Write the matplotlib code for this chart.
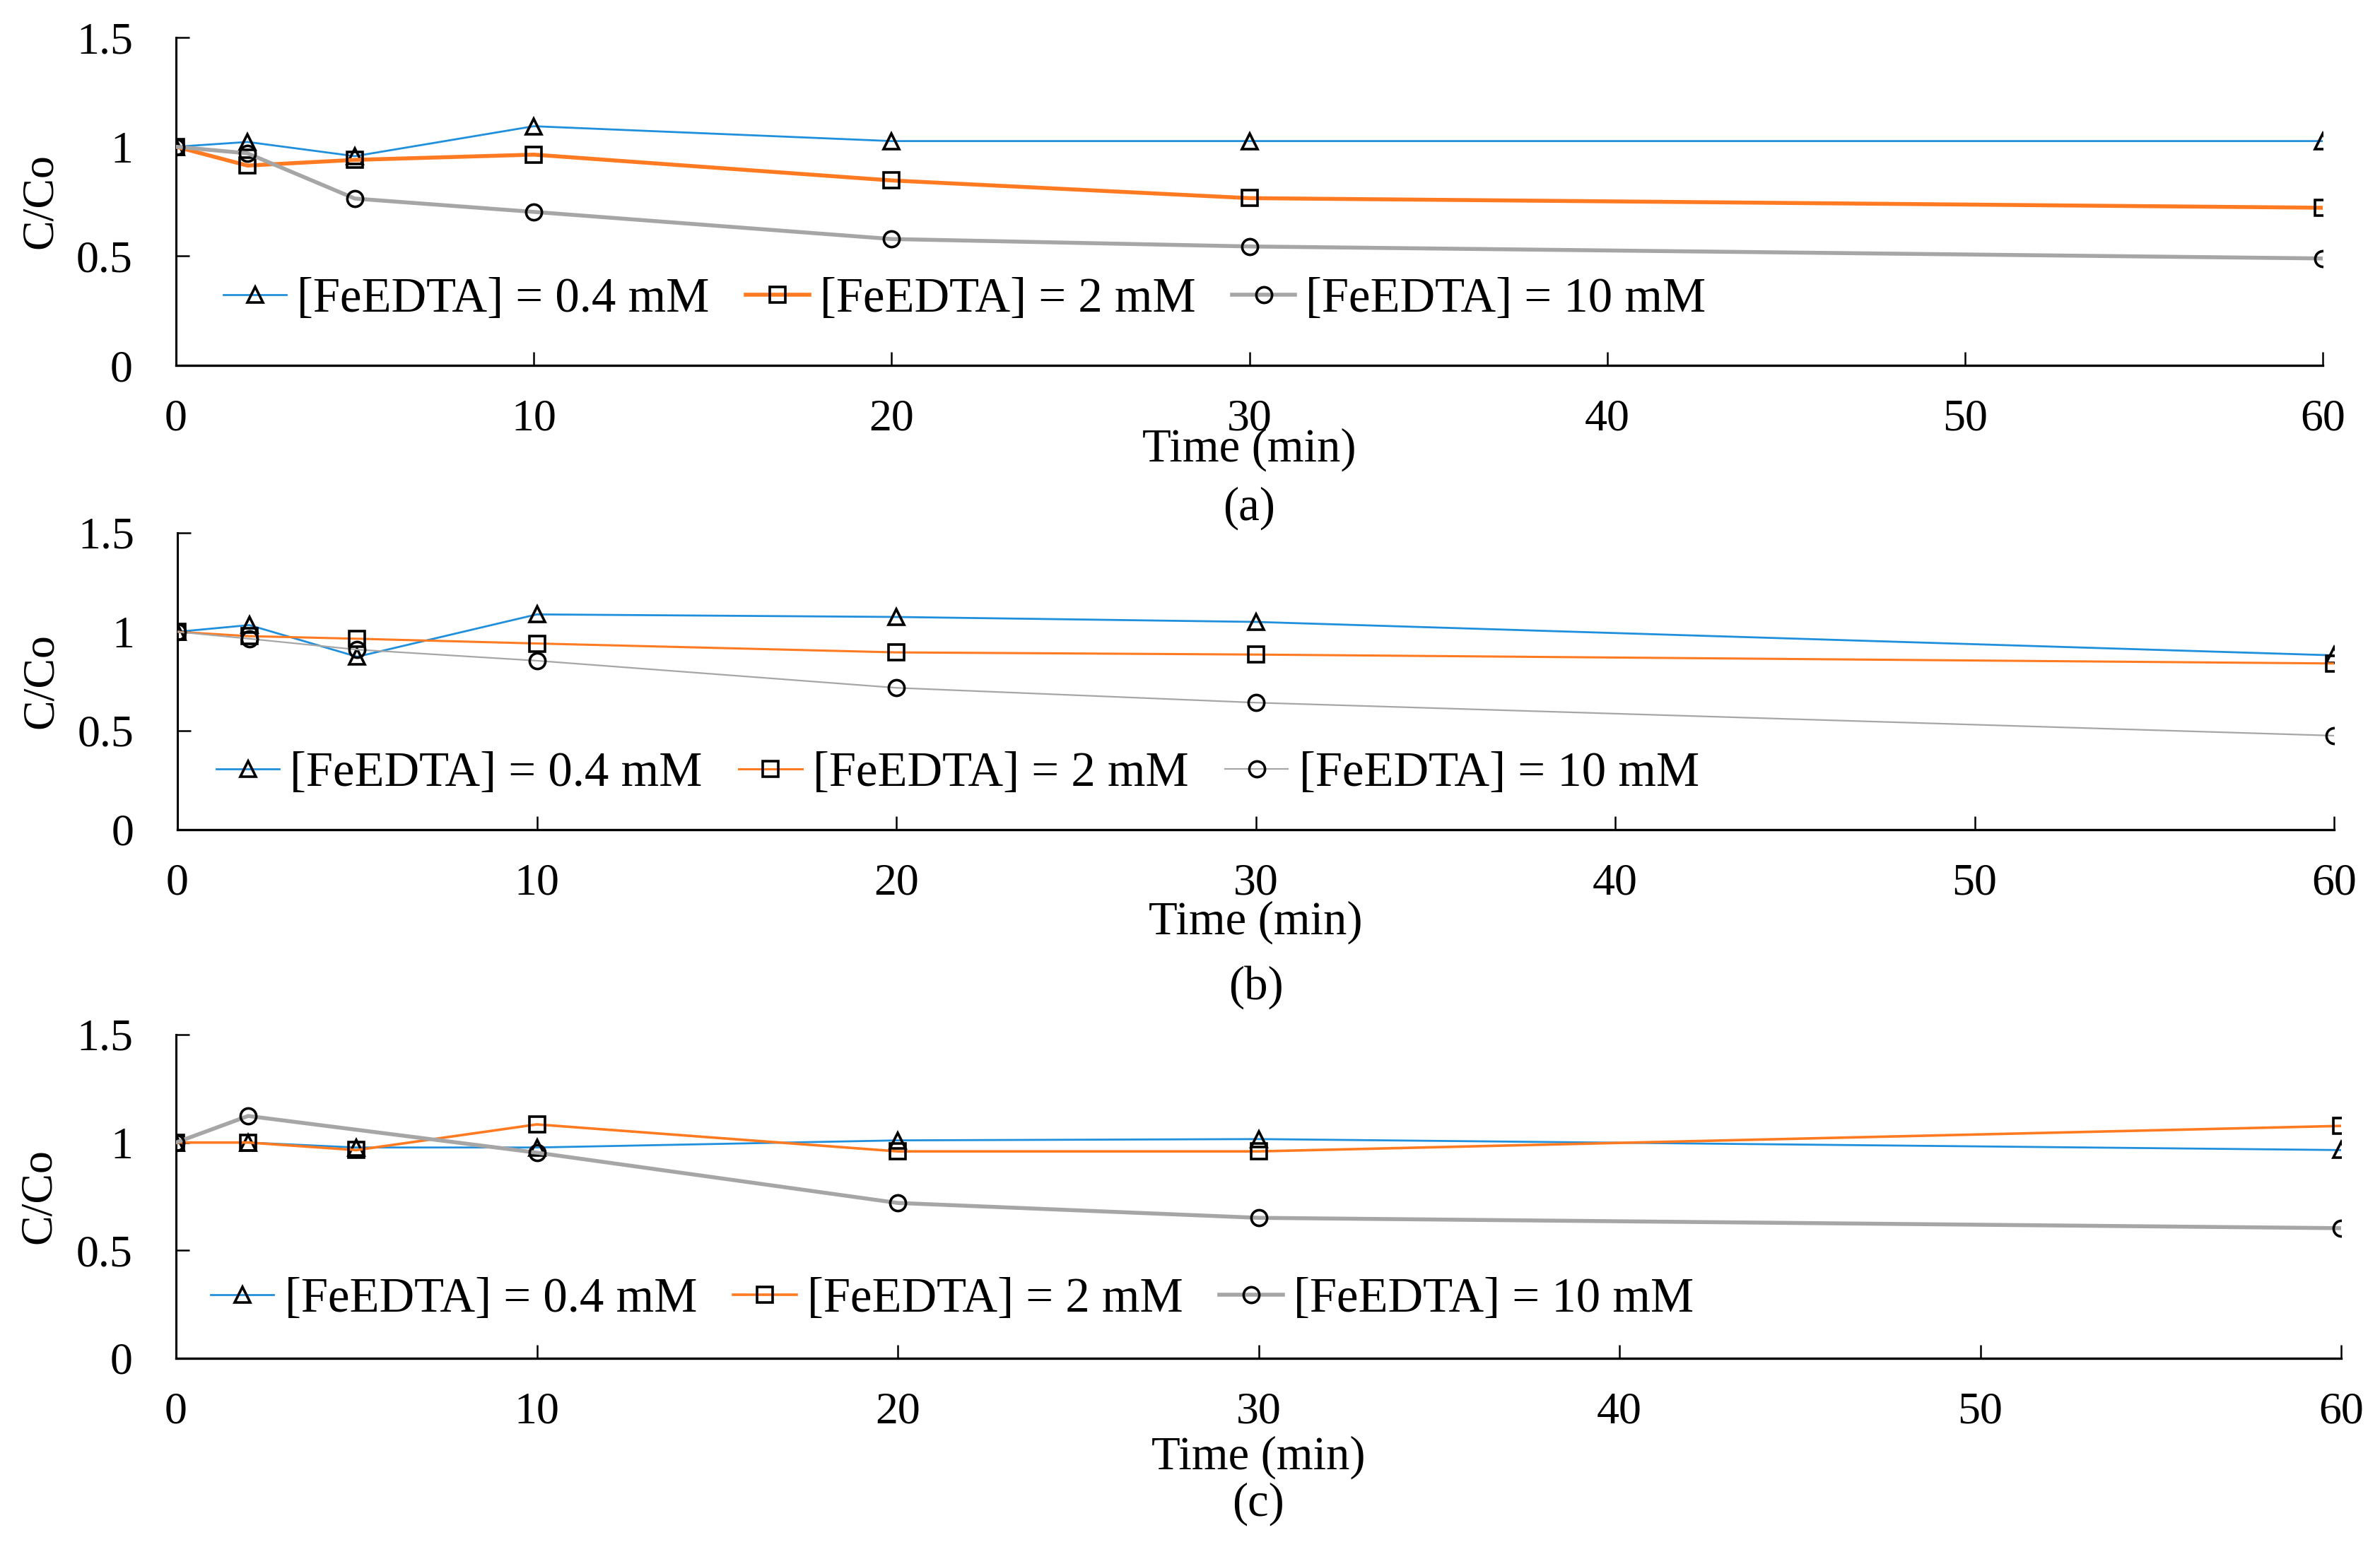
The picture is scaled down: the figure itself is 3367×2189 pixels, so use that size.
import matplotlib
matplotlib.use("Agg")
import matplotlib.pyplot as plt
import numpy as np

#===============================================================================#
# data                                                                          #
#===============================================================================#

time_min = [0, 2, 5, 10, 20, 30, 60]
labels = ["[FeEDTA] = 0.4 mM", "[FeEDTA] = 2 mM", "[FeEDTA] = 10 mM"]

# panel (a)
a_low = [1.0, 1.022, 0.957, 1.094, 1.026, 1.026, 1.026]
a_mid = [1.0, 0.914, 0.940, 0.964, 0.846, 0.765, 0.721]
a_high = [1.0, 0.970, 0.763, 0.702, 0.578, 0.544, 0.489]

# panel (b)
b_low = [1.0, 1.034, 0.874, 1.088, 1.075, 1.050, 0.881]
b_mid = [1.0, 0.978, 0.965, 0.941, 0.896, 0.885, 0.840]
b_high = [1.0, 0.965, 0.910, 0.854, 0.717, 0.642, 0.475]

# panel (c) -- no 10 mM point at 5 min
c_low = [1.0, 1.0, 0.977, 0.977, 1.010, 1.016, 0.965]
c_mid = [1.0, 1.0, 0.965, 1.084, 0.959, 0.959, 1.077]
c_high = [1.0, 1.123, np.nan, 0.953, 0.720, 0.651, 0.603]

panel_tags = ["(a)", "(b)", "(c)"]

#===============================================================================#
# style                                                                         #
#===============================================================================#

plt.rcParams['font.family'] = ['Liberation Serif', 'DejaVu Serif']
colors = ['#2090DC', '#FF7A20', '#A6A6A6']
markers = ['^', 's', 'o']

W, H = 3367, 2189
fig = plt.figure(figsize=(W / 100, H / 100), dpi=100)

# axes boxes in pixels: left, right, top, bottom
boxes = [(249, 3286, 53, 517), (251, 3302, 754, 1174), (249, 3312, 1464, 1922)]
widths = [[2.0, 4.0, 4.0], [2.0, 2.2, 1.6], [2.0, 2.6, 4.0]]
legend_anchor = [(0.022, 0.20), (0.018, 0.187), (0.016, 0.18)]
xlabel_y = [636, 1305, 2062]
tag_y = [719, 1397, 2128]

series = [(a_low, a_mid, a_high), (b_low, b_mid, b_high), (c_low, c_mid, c_high)]

for i, (left, right, top, bottom) in enumerate(boxes):
    ax = fig.add_axes([left / W, 1 - bottom / H, (right - left) / W, (bottom - top) / H])

    for j, y in enumerate(series[i]):
        y = np.array(y, dtype=float)
        ok = ~np.isnan(y)
        ax.plot(np.array(time_min)[ok], y[ok], color=colors[j], lw=widths[i][j],
                marker=markers[j], ms=16, mfc='none', mec='black', mew=2.6,
                label=labels[j], zorder=3 + j)

    ax.set_xlim(0, 60)
    ax.set_ylim(0, 1.5)
    ax.set_xticks([0, 10, 20, 30, 40, 50, 60])
    ax.set_yticks([0, 0.5, 1, 1.5])
    ax.set_yticklabels(["0", "0.5", "1", "1.5"])
    ax.spines['top'].set_visible(False)
    ax.spines['right'].set_visible(False)
    ax.spines['left'].set_linewidth(2.2)
    ax.spines['bottom'].set_linewidth(2.4)
    ax.tick_params(direction='in', length=14, width=1.8, labelsize=46)
    ax.tick_params(axis='x', pad=34)
    ax.tick_params(axis='y', pad=44)
    ax.patch.set_alpha(0)

    ax.text(-0.063, 0.5, "C/Co", transform=ax.transAxes, rotation=90,
            ha='center', va='center', fontsize=46)

    ax.legend(loc='center left', bbox_to_anchor=legend_anchor[i], ncol=3,
              frameon=False, fontsize=49.5, handlelength=1.3, handletextpad=0.22,
              columnspacing=0.75, borderpad=0, borderaxespad=0)

    xc = (left + right) / 2 / W
    fig.text(xc, 1 - xlabel_y[i] / H, "Time (min)", ha='center', va='center', fontsize=48)
    fig.text(xc, 1 - tag_y[i] / H, panel_tags[i], ha='center', va='center', fontsize=48)

fig.savefig("out.png", dpi=100)
plt.close(fig)
